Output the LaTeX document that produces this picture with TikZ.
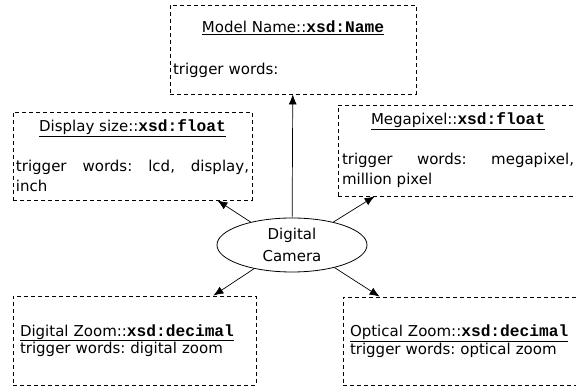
\documentclass[tikz,border=0pt]{standalone}
\usepackage{fontspec}
\setmainfont{DejaVu Sans}
\setmonofont{Liberation Mono}[Scale=1.08]
\usetikzlibrary{arrows.meta,shapes.geometric}
\tikzset{
  field/.style={draw, dash pattern=on 4pt off 3pt, line width=0.8pt, rectangle, inner xsep=3pt, inner ysep=2pt, font=\fontsize{15}{20}\selectfont},
  link/.style={draw, line width=0.7pt, -{Latex[length=10pt,width=8pt]}}
}
\newcommand{\fieldname}[2]{\underline{#1::\textbf{\texttt{#2}}}}
\frenchspacing

\begin{document}
\begin{tikzpicture}[x=1pt,y=1pt]
\useasboundingbox (0,0) rectangle (576,387);
\node[field, minimum width=246pt, minimum height=89pt, text width=240pt, align=left] (model) at (293,337.5){{\centering\fieldname{Model Name}{xsd:Name}\par}\vspace{22pt}trigger words:};
\node[field, minimum width=239pt, minimum height=88pt, text width=233pt, align=justify] (disp) at (132.5,231){{\centering\fieldname{Display size}{xsd:float}\par}\vspace{20pt}trigger words: lcd, display,\linebreak inch};
\node[field, minimum width=240pt, minimum height=91pt, inner xsep=4pt, text width=232pt, align=justify] (mega) at (458,236.5){{\centering\fieldname{Megapixel}{xsd:float}\par}\vspace{20pt}trigger words: megapixel,\linebreak million pixel};
\node[field, minimum width=243pt, minimum height=89pt, inner xsep=7pt, text width=229pt, align=left, font=\fontsize{15}{16}\selectfont] (dzoom) at (134.5,46.5){\fieldname{Digital Zoom}{xsd:decimal}\\trigger words: digital zoom};
\node[field, minimum width=244pt, minimum height=88pt, inner xsep=7pt, text width=230pt, align=left, font=\fontsize{15}{16}\selectfont] (ozoom) at (465,46){\fieldname{Optical Zoom}{xsd:decimal}\\trigger words: optical zoom};
\node[ellipse, draw, line width=0.8pt, minimum width=150pt, minimum height=54pt, inner sep=0pt, align=center, font=\fontsize{15}{22}\selectfont] (cam) at (292,142){Digital\\Camera};
\draw[link] (cam) -- (model);
\draw[link] (cam.151) -- ([xshift=-35pt]disp.south east);
\draw[link] (cam.29) -- ([xshift=37pt]mega.south west);
\draw[link] (cam.212) -- ([xshift=-43pt]dzoom.north east);
\draw[link] (cam.332) -- ([xshift=37pt]ozoom.north west);
\end{tikzpicture}
\end{document}
